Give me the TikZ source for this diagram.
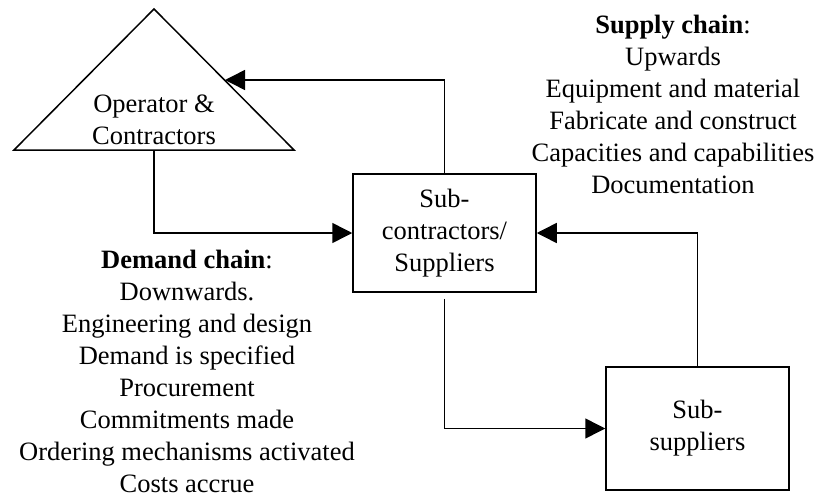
\documentclass[tikz,border=0pt]{standalone}
\usepackage{fontspec}
\setmainfont{Liberation Serif}
\usetikzlibrary{arrows.meta}
\tikzset{
  conn/.style={line width=1.5pt, -{Triangle[length=20pt,width=20pt]}},
  boxnode/.style={draw, line width=1.5pt, minimum width=183pt, align=center, inner sep=0pt},
  txt/.style={align=center, inner sep=0pt},
}
\begin{document}
\begin{tikzpicture}[x=1pt,y=-1pt, font=\fontsize{26.5}{32}\selectfont]
\useasboundingbox (0,0) rectangle (819,498);
% triangle
\coordinate (apex) at (154,9);
\coordinate (bl) at (14,150);
\coordinate (br) at (294,150);
\draw[line width=1.5pt, line join=miter] (apex) -- (br) -- (bl) -- cycle;
\coordinate (tribot) at (154,150);
\coordinate (triedge) at (225,80);
\node[txt] (op) at (154,120) {Operator \&\\Contractors};
% boxes
\node[boxnode, minimum height=118pt] (sc) at (444.5,233) {Sub-\\contractors/\\Suppliers};
\node[boxnode, minimum height=123pt] (ss) at (697.5,428.5) {Sub-\\suppliers};
% texts
\node[txt] (supply) at (673,104) {\textbf{Supply chain}:\\Upwards\\Equipment and material\\Fabricate and construct\\Capacities and capabilities\\Documentation};
\node[txt] (demand) at (187,371) {\textbf{Demand chain}:\\Downwards.\\Engineering and design\\Demand is specified\\Procurement\\Commitments made\\Ordering mechanisms activated\\Costs accrue};
% connectors
\draw[conn] (tribot) |- (sc.west);
\draw[conn] (sc.north) |- (triedge);
\draw[conn, shorten <=6pt] (sc.south) |- (ss.west);
\draw[conn] (ss.north) |- (sc.east);
\end{tikzpicture}
\end{document}
